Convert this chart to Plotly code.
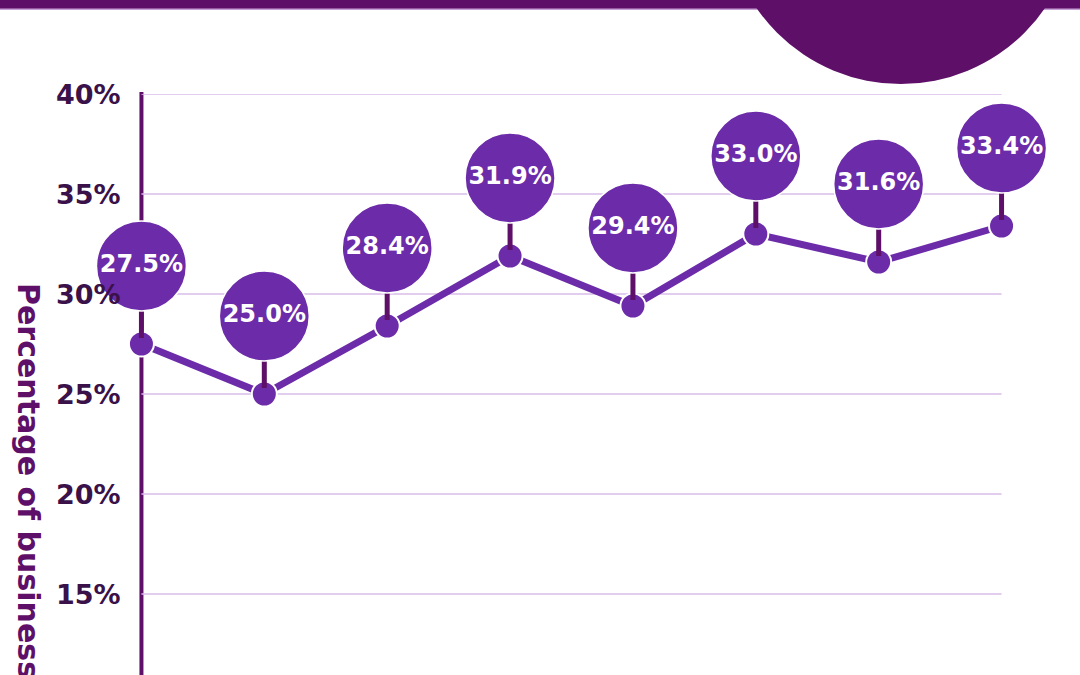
import plotly.graph_objects as go

# ---- data ----
categories = ["P1", "P2", "P3", "P4", "P5", "P6", "P7", "P8"]
values = [27.5, 25.0, 28.4, 31.9, 29.4, 33.0, 31.6, 33.4]
labels = ["27.5%", "25.0%", "28.4%", "31.9%", "29.4%", "33.0%", "31.6%", "33.4%"]
y_ticks = [15, 20, 25, 30, 35, 40]
y_tick_text = ["15%", "20%", "25%", "30%", "35%", "40%"]
y_title = "Percentage of businesses"

# ---- style ----
W, H = 1080, 675
STEP = 122.9
X0_PX = 141.5
L = X0_PX - 0.5 * STEP
R = W - (X0_PX + 7.5 * STEP)
T, B = 94, 0
Y_MIN, Y_MAX = 10.95, 40
BUBBLE_OFFSET = 3.9
STEM_GAP = 0.3
DARK = "#5E1068"
PURPLE = "#6C2BA8"
TICK_COL = "#3A1149"
GRID = "#D9BCE8"
FONT = "DejaVu Sans"

pw = W - L - R
ph = H - T - B


def px_x(px):
    return (px - L) / pw


def px_y(py):
    return (H - B - py) / ph


fig = go.Figure()

# connecting line and point markers
fig.add_trace(go.Scatter(
    x=categories, y=values, mode="lines+markers",
    line=dict(color=PURPLE, width=7),
    marker=dict(size=25, color=PURPLE, line=dict(color="white", width=2)),
    cliponaxis=False, hoverinfo="skip", showlegend=False,
))

# stems
sx, sy = [], []
for c, v in zip(categories, values):
    sx += [c, c, None]
    sy += [v + STEM_GAP, v + BUBBLE_OFFSET, None]
fig.add_trace(go.Scatter(
    x=sx, y=sy, mode="lines", line=dict(color=DARK, width=5),
    cliponaxis=False, hoverinfo="skip", showlegend=False,
))

# bubbles with labels
fig.add_trace(go.Scatter(
    x=categories, y=[v + BUBBLE_OFFSET for v in values], mode="markers+text",
    marker=dict(size=90, color=PURPLE, line=dict(color="white", width=1.5)),
    text=labels, textposition="middle center",
    textfont=dict(family=FONT, size=24, color="white", weight="bold"),
    cliponaxis=False, hoverinfo="skip", showlegend=False,
))

shapes = []
# gridlines from the axis to the last category
for t in y_ticks:
    shapes.append(dict(type="line", xref="x", yref="y", x0=0, x1=7, y0=t, y1=t,
                       line=dict(color=GRID, width=1.5), layer="below"))
# vertical axis line
shapes.append(dict(type="line", xref="x", yref="paper", x0=0, x1=0,
                   y0=px_y(H + 5), y1=px_y(92),
                   line=dict(color=DARK, width=4), layer="below"))
# thin lavender line under header
shapes.append(dict(type="rect", xref="paper", yref="paper",
                   x0=px_x(-5), x1=px_x(W + 5), y0=px_y(10), y1=px_y(8),
                   fillcolor="#C8A2D6", line=dict(width=0), layer="above"))
# header bar
shapes.append(dict(type="rect", xref="paper", yref="paper",
                   x0=px_x(-5), x1=px_x(W + 5), y0=px_y(8.5), y1=px_y(-5),
                   fillcolor=DARK, line=dict(width=0), layer="above"))
# decorative circle
shapes.append(dict(type="circle", xref="paper", yref="paper",
                   xsizemode="pixel", ysizemode="pixel",
                   xanchor=px_x(901), yanchor=px_y(-91),
                   x0=-175, x1=175, y0=-175, y1=175,
                   fillcolor=DARK, line=dict(width=0), layer="above"))

annotations = [dict(
    text=y_title, xref="paper", yref="paper",
    x=px_x(29), y=px_y(281), xanchor="center", yanchor="top",
    textangle=90, showarrow=False,
    font=dict(family=FONT, size=30, color=DARK, weight="bold"),
)]
# y tick labels
for t, txt in zip(y_ticks, y_tick_text):
    annotations.append(dict(
        text=txt, xref="paper", yref="y", x=px_x(123), y=t,
        xanchor="right", yanchor="middle", showarrow=False,
        font=dict(family=FONT, size=27, color=TICK_COL, weight="bold"),
    ))

fig.update_layout(
    width=W, height=H,
    margin=dict(l=L, r=R, t=T, b=B, autoexpand=False),
    paper_bgcolor="white", plot_bgcolor="white",
    shapes=shapes,
    annotations=annotations,
)
fig.update_xaxes(
    type="category", range=[-0.5, 7.5], showgrid=False, showticklabels=False,
    showline=False, zeroline=False, ticks="", automargin=False,
)
fig.update_yaxes(
    range=[Y_MIN, Y_MAX], showgrid=False, zeroline=False, showline=False,
    ticks="", showticklabels=False, automargin=False,
)

fig.write_html("out.html")
